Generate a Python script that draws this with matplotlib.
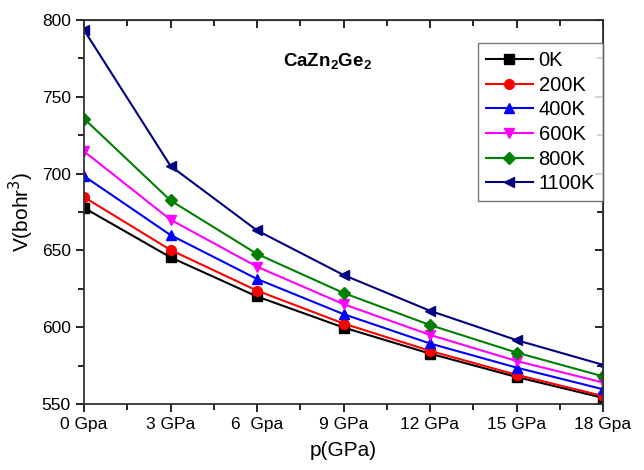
import matplotlib
matplotlib.use('Agg')
import matplotlib.pyplot as plt
from matplotlib.ticker import MultipleLocator

plt.rcParams['font.family'] = ['Liberation Sans', 'DejaVu Sans']

pressure = [0, 3, 6, 9, 12, 15, 18]
tick_labels = ['0 Gpa', '3 GPa', '6  Gpa', '9 GPa', '12 GPa', '15 GPa', '18 Gpa']

v_0K = [677.7, 645.5, 620.0, 599.8, 582.8, 567.6, 554.0]
v_200K = [684.7, 650.3, 623.8, 602.4, 584.6, 569.0, 555.2]
v_400K = [698.4, 660.0, 631.4, 608.5, 589.4, 573.7, 559.6]
v_600K = [714.5, 670.0, 639.4, 615.0, 595.0, 578.0, 564.0]
v_800K = [735.8, 682.5, 647.7, 622.3, 601.4, 583.5, 568.0]
v_1100K = [793.5, 705.0, 663.0, 634.0, 610.7, 591.6, 575.5]

series = [
    ('0K', v_0K, 'black', 's'),
    ('200K', v_200K, 'red', 'o'),
    ('400K', v_400K, 'blue', '^'),
    ('600K', v_600K, 'magenta', 'v'),
    ('800K', v_800K, '#008000', 'D'),
    ('1100K', v_1100K, '#000080', '<'),
]

fig = plt.figure(figsize=(6.44, 4.70), dpi=100)
ax = fig.add_axes([84 / 644, 1 - 404 / 470, (603 - 84) / 644, (404 - 20) / 470])

for label, vals, color, marker in series:
    ms = 6 if marker == 'D' else 7
    ax.plot(pressure, vals, color=color, marker=marker, markersize=ms,
            linewidth=1.5, label=label)

ax.set_xlim(0, 18)
ax.set_ylim(550, 800)
ax.set_xticks(pressure)
ax.set_xticklabels(tick_labels)
ax.xaxis.set_minor_locator(MultipleLocator(1.5))
ax.yaxis.set_major_locator(MultipleLocator(50))
ax.yaxis.set_minor_locator(MultipleLocator(25))

ax.tick_params(which='both', direction='out', labelsize=12.5, width=1.2)
ax.tick_params(which='major', length=6)
ax.tick_params(which='minor', length=4)
for s in ax.spines.values():
    s.set_linewidth(1.3)
    s.set_color('#333333')

# inward ticks on the mirrored axes
top = ax.secondary_xaxis('top')
top.set_xticks(pressure)
top.xaxis.set_minor_locator(MultipleLocator(1.5))
top.tick_params(which='both', direction='in', labeltop=False, width=1.2)
top.tick_params(which='major', length=6)
top.tick_params(which='minor', length=4)
right = ax.secondary_yaxis('right')
right.yaxis.set_major_locator(MultipleLocator(50))
right.yaxis.set_minor_locator(MultipleLocator(25))
right.tick_params(which='both', direction='in', labelright=False, width=1.2)
right.tick_params(which='major', length=6)
right.tick_params(which='minor', length=4)

ax.set_xlabel('p(GPa)', fontsize=15, labelpad=6)
ax.set_ylabel('V(bohr$^3$)', fontsize=15, labelpad=4)

ax.text(0.47, 0.89, 'CaZn$_\\mathregular{2}$Ge$_\\mathregular{2}$', transform=ax.transAxes,
        fontsize=13.5, fontweight='bold', ha='center', va='center')

leg = ax.legend(loc='upper right', bbox_to_anchor=(1.0, 0.94), fontsize=14.5,
                frameon=True, fancybox=False, edgecolor='#555555',
                handlelength=2.3, handletextpad=0.3, labelspacing=0.28,
                borderpad=0.4, borderaxespad=0)
leg.get_frame().set_linewidth(1.0)

fig.savefig('out.png', dpi=100)
